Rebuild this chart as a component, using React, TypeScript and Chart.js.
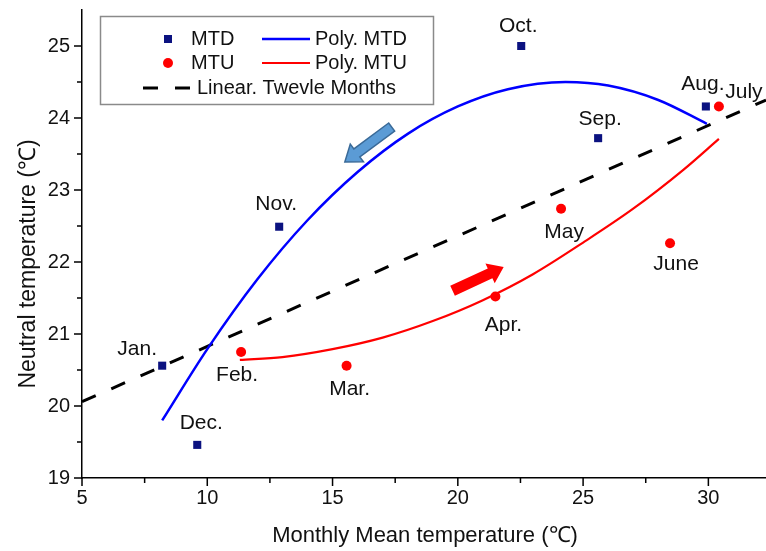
import React, { useEffect, useRef } from 'react';
import { Chart, registerables } from 'chart.js';

Chart.register(...registerables);

// ---- data ----
const mtdMonths = ['Jan.', 'Dec.', 'Nov.', 'Oct.', 'Sep.', 'Aug.'];
const mtdX = [8.2, 9.6, 12.87, 22.53, 25.6, 29.9];
const mtdY = [20.56, 19.46, 22.49, 25.0, 23.72, 24.16];

const mtuMonths = ['Feb.', 'Mar.', 'Apr.', 'May', 'June', 'July'];
const mtuX = [11.35, 15.56, 21.5, 24.12, 28.47, 30.42];
const mtuY = [20.75, 20.56, 21.52, 22.74, 22.26, 24.16];

const polyMtdX = [8.2, 10, 12, 14, 16, 18, 20, 22, 24.3, 26, 28, 29.94];
const polyMtdY = [19.8, 20.79, 21.76, 22.58, 23.25, 23.78, 24.16, 24.4, 24.5, 24.45, 24.25, 23.92];

const polyMtuX = [11.3, 13, 15, 17, 19, 21, 23, 25, 27, 29, 30.42];
const polyMtuY = [20.64, 20.68, 20.79, 20.95, 21.18, 21.47, 21.83, 22.27, 22.74, 23.28, 23.71];

const linearX = [5, 32.3];
const linearY = [20.06, 24.25];

const xTicks = [5, 10, 15, 20, 25, 30];
const xMinorTicks = [7.5, 12.5, 17.5, 22.5, 27.5];
const yTicks = [19, 20, 21, 22, 23, 24, 25];
const yMinorTicks = [19.5, 20.5, 21.5, 22.5, 23.5, 24.5];

// arrows: [tailX, tailY, tipX, tipY] in data units
const blueArrow = [17.36, 23.875, 15.49, 23.39];
const redArrow = [19.79, 21.6, 21.83, 21.93];

// ---- styling (label offsets in px) ----
const mtdLabelOffsets = [[-25, -16], [4, -22], [-3, -23], [-3, -20], [2, -19], [-3, -22]];
const mtuLabelOffsets = [[-4, 23], [3, 24], [8, 29], [3, 23], [6, 21], [25, -14]];

const FONT = "'Liberation Sans', Arial, sans-serif";
const NAVY = '#0b1280';
const RED = '#ff0000';
const BLUE = '#0000ff';

function drawArrow(ctx: CanvasRenderingContext2D, tx: number, ty: number, hx: number, hy: number,
  sw: number, hw: number, hl: number, fill: string, stroke?: string) {
  const dx = hx - tx, dy = hy - ty;
  const len = Math.hypot(dx, dy);
  const ux = dx / len, uy = dy / len;
  const nx = -uy, ny = ux;
  const bx = hx - ux * hl, by = hy - uy * hl;
  ctx.beginPath();
  ctx.moveTo(tx + nx * sw, ty + ny * sw);
  ctx.lineTo(bx + nx * sw, by + ny * sw);
  ctx.lineTo(bx + nx * hw, by + ny * hw);
  ctx.lineTo(hx, hy);
  ctx.lineTo(bx - nx * hw, by - ny * hw);
  ctx.lineTo(bx - nx * sw, by - ny * sw);
  ctx.lineTo(tx - nx * sw, ty - ny * sw);
  ctx.closePath();
  ctx.fillStyle = fill;
  ctx.fill();
  if (stroke) {
    ctx.strokeStyle = stroke;
    ctx.lineWidth = 1.5;
    ctx.stroke();
  }
}

const decorPlugin = {
  id: 'decor',
  afterDraw(chart: any) {
    const ctx: CanvasRenderingContext2D = chart.ctx;
    const xs = chart.scales.x;
    const ys = chart.scales.y;
    const area = chart.chartArea;
    ctx.save();

    // tick marks (outward)
    ctx.strokeStyle = '#000';
    ctx.lineWidth = 1.5;
    ctx.beginPath();
    xTicks.forEach((v) => { const p = xs.getPixelForValue(v); ctx.moveTo(p, area.bottom); ctx.lineTo(p, area.bottom + 8); });
    xMinorTicks.forEach((v) => { const p = xs.getPixelForValue(v); ctx.moveTo(p, area.bottom); ctx.lineTo(p, area.bottom + 5); });
    yTicks.forEach((v) => { const p = ys.getPixelForValue(v); ctx.moveTo(area.left, p); ctx.lineTo(area.left - 8, p); });
    yMinorTicks.forEach((v) => { const p = ys.getPixelForValue(v); ctx.moveTo(area.left, p); ctx.lineTo(area.left - 5, p); });
    ctx.stroke();

    // axis titles
    ctx.fillStyle = '#111';
    ctx.font = `22px ${FONT}`;
    ctx.textAlign = 'center';
    ctx.textBaseline = 'middle';
    ctx.fillText('Monthly Mean temperature (℃)', 425, 536);
    ctx.save();
    ctx.translate(29, 264);
    ctx.rotate(-Math.PI / 2);
    ctx.font = `23px ${FONT}`;
    ctx.fillText('Neutral temperature (℃)', 0, 0);
    ctx.restore();

    // arrows
    drawArrow(ctx, xs.getPixelForValue(blueArrow[0]), ys.getPixelForValue(blueArrow[1]),
      xs.getPixelForValue(blueArrow[2]), ys.getPixelForValue(blueArrow[3]), 5, 11, 15, '#5b9bd5', '#3a6a98');
    drawArrow(ctx, xs.getPixelForValue(redArrow[0]), ys.getPixelForValue(redArrow[1]),
      xs.getPixelForValue(redArrow[2]), ys.getPixelForValue(redArrow[3]), 5.5, 11, 15, RED);

    // month labels
    ctx.font = `21px ${FONT}`;
    ctx.fillStyle = '#111';
    mtdMonths.forEach((m, i) => {
      ctx.fillText(m, xs.getPixelForValue(mtdX[i]) + mtdLabelOffsets[i][0], ys.getPixelForValue(mtdY[i]) + mtdLabelOffsets[i][1]);
    });
    mtuMonths.forEach((m, i) => {
      ctx.fillText(m, xs.getPixelForValue(mtuX[i]) + mtuLabelOffsets[i][0], ys.getPixelForValue(mtuY[i]) + mtuLabelOffsets[i][1]);
    });

    // legend box
    ctx.fillStyle = '#fff';
    ctx.fillRect(100, 16, 333, 88);
    ctx.strokeStyle = '#8a8a8a';
    ctx.lineWidth = 1.5;
    ctx.strokeRect(100.5, 16.5, 333, 88);

    ctx.fillStyle = NAVY;
    ctx.fillRect(164, 35, 8, 8);
    ctx.fillStyle = RED;
    ctx.beginPath();
    ctx.arc(168, 63, 5, 0, Math.PI * 2);
    ctx.fill();

    ctx.lineWidth = 2.5;
    ctx.strokeStyle = BLUE;
    ctx.beginPath(); ctx.moveTo(262, 39); ctx.lineTo(310, 39); ctx.stroke();
    ctx.lineWidth = 2.2;
    ctx.strokeStyle = RED;
    ctx.beginPath(); ctx.moveTo(262, 63); ctx.lineTo(310, 63); ctx.stroke();
    ctx.lineWidth = 3;
    ctx.strokeStyle = '#000';
    ctx.setLineDash([15, 17]);
    ctx.beginPath(); ctx.moveTo(143, 88); ctx.lineTo(191, 88); ctx.stroke();
    ctx.setLineDash([]);

    ctx.fillStyle = '#111';
    ctx.font = `20px ${FONT}`;
    ctx.textAlign = 'left';
    ctx.fillText('MTD', 191, 39);
    ctx.fillText('MTU', 191, 63);
    ctx.fillText('Poly. MTD', 315, 39);
    ctx.fillText('Poly. MTU', 315, 63);
    ctx.fillText('Linear. Twevle Months', 197, 88);

    ctx.restore();
  },
};

const zeroPad = (s: any) => {
  s.paddingTop = 0;
  s.paddingBottom = 0;
  s.paddingLeft = 0;
  s.paddingRight = 0;
};

export default function App() {
  const ref = useRef<HTMLCanvasElement>(null);

  useEffect(() => {
    if (!ref.current) return;
    const chart = new Chart(ref.current, {
      type: 'scatter',
      data: {
        datasets: [
          {
            label: 'MTD',
            data: mtdX.map((x, i) => ({ x, y: mtdY[i] })),
            pointStyle: 'rect',
            pointRadius: 5.7,
            backgroundColor: NAVY,
            borderColor: NAVY,
            borderWidth: 0,
            showLine: false,
          },
          {
            label: 'MTU',
            data: mtuX.map((x, i) => ({ x, y: mtuY[i] })),
            pointStyle: 'circle',
            pointRadius: 5,
            backgroundColor: RED,
            borderColor: RED,
            borderWidth: 0,
            showLine: false,
          },
          {
            label: 'Poly. MTD',
            data: polyMtdX.map((x, i) => ({ x, y: polyMtdY[i] })),
            showLine: true,
            pointRadius: 0,
            borderColor: BLUE,
            borderWidth: 2.5,
            cubicInterpolationMode: 'monotone',
          },
          {
            label: 'Poly. MTU',
            data: polyMtuX.map((x, i) => ({ x, y: polyMtuY[i] })),
            showLine: true,
            pointRadius: 0,
            borderColor: RED,
            borderWidth: 2.2,
            cubicInterpolationMode: 'monotone',
          },
          {
            label: 'Linear. Twevle Months',
            data: linearX.map((x, i) => ({ x, y: linearY[i] })),
            showLine: true,
            pointRadius: 0,
            borderColor: '#000',
            borderWidth: 3,
            borderDash: [15, 17],
          },
        ],
      } as any,
      options: {
        animation: false,
        responsive: false,
        devicePixelRatio: 1,
        layout: { autoPadding: false, padding: { top: 10, right: 0, left: 0, bottom: 0 } },
        plugins: { legend: { display: false }, tooltip: { enabled: false } },
        scales: {
          x: {
            type: 'linear',
            min: 5,
            max: 32.3,
            afterBuildTicks: (s: any) => { s.ticks = xTicks.map((v) => ({ value: v })); },
            afterFit: (s: any) => { s.height = 73; zeroPad(s); },
            grid: { display: false, drawTicks: false },
            border: { display: true, color: '#000', width: 1.5 },
            ticks: { color: '#111', font: { family: FONT, size: 20 }, padding: 8, maxRotation: 0 },
          },
          y: {
            type: 'linear',
            min: 19,
            max: 25.5,
            afterBuildTicks: (s: any) => { s.ticks = yTicks.map((v) => ({ value: v })); },
            afterFit: (s: any) => { s.width = 82; zeroPad(s); },
            grid: { display: false, drawTicks: false },
            border: { display: true, color: '#000', width: 1.5 },
            ticks: { color: '#111', font: { family: FONT, size: 20 }, padding: 12 },
          },
        },
      } as any,
      plugins: [decorPlugin],
    });
    return () => chart.destroy();
  }, []);

  return (
    <div style={{ position: 'fixed', left: 0, top: 0, width: 766, height: 551, background: '#fff' }}>
      <canvas ref={ref} width={766} height={551} style={{ display: 'block' }} />
    </div>
  );
}
